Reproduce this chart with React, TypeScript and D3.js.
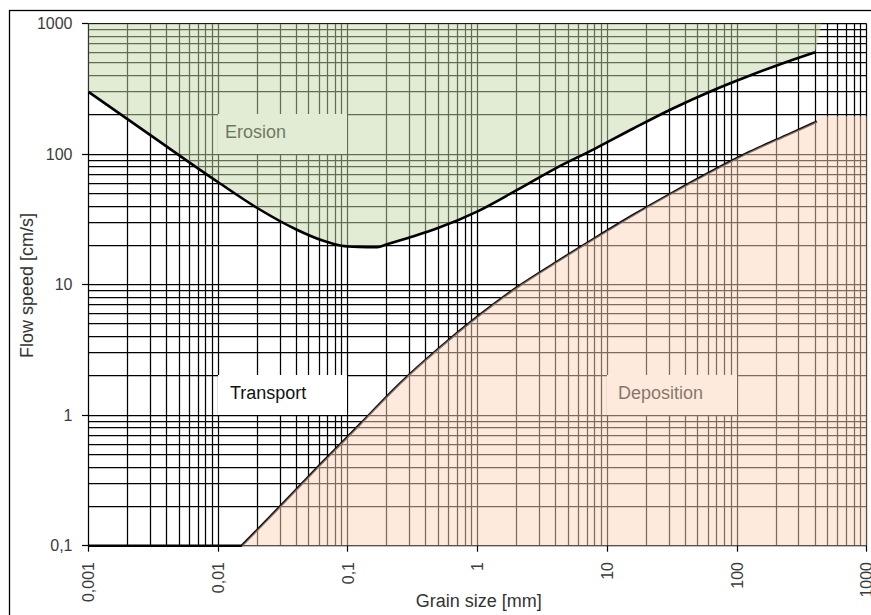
import React from 'react';
import * as d3 from 'd3';

// Hjulström-style diagram data (grain size in mm, flow speed in cm/s)
const erosionGrain = [0.001, 0.003, 0.01, 0.02, 0.04, 0.063, 0.089, 0.12, 0.168, 0.2, 0.315, 0.5, 1, 2, 4, 8, 16, 32, 63, 126, 250, 400];
const erosionSpeed = [300, 140, 61, 38.7, 26.5, 21.9, 19.9, 19.5, 19.4, 20.4, 23.4, 27.3, 36.5, 53, 78, 110, 158, 224, 304, 401, 516, 605];
const depositionGrain = [0.0152, 0.03, 0.06, 0.125, 0.25, 0.5, 1, 2, 4, 8, 16, 32, 63, 125, 250, 414];
const depositionSpeed = [0.1, 0.2, 0.41, 0.86, 1.74, 3.24, 5.7, 9.5, 14.8, 22.7, 34.4, 50.9, 73.5, 104, 142, 178];
const depositionFloorGrain = [0.001, 0.0152];
const depositionFloorSpeed = [0.1, 0.1];
const erosionTopGrain = 450;
const depositionTopSpeed = 195;

const xTickValues = [0.001, 0.01, 0.1, 1, 10, 100, 1000];
const xTickLabels = ['0,001', '0,01', '0,1', '1', '10', '100', '1000'];
const yTickValues = [0.1, 1, 10, 100, 1000];
const yTickLabels = ['0,1', '1', '10', '100', '1000'];

const regionNames = ['Erosion', 'Transport', 'Deposition'];
const regionX0 = [0.01, 0.01, 10];
const regionX1 = [0.1, 0.1, 100];
const regionY0 = [100, 1, 1];
const regionY1 = [200, 2, 2];
const regionTextPad = [7, 12, 11];

const xTitle = 'Grain size [mm]';
const yTitle = 'Flow speed [cm/s]';

const FONT = '"Liberation Sans", Arial, sans-serif';

export default function App() {
  const W = 871;
  const H = 615;
  const x = d3.scaleLog().domain([0.001, 1000]).range([88.5, 866.7]);
  const y = d3.scaleLog().domain([0.1, 1000]).range([545.7, 23.7]);
  const [xMin, xMax] = x.domain();
  const [yMin, yMax] = y.domain();

  const minorX: number[] = [];
  for (let e = -3; e < 3; e++) for (let k = 1; k <= 9; k++) minorX.push(k * Math.pow(10, e));
  minorX.push(1000);
  const minorY: number[] = [];
  for (let e = -1; e < 3; e++) for (let k = 1; k <= 9; k++) minorY.push(k * Math.pow(10, e));
  minorY.push(1000);

  const snap = (v: number) => Math.round(v - 0.5) + 0.5;

  const lineGen = d3
    .line<[number, number]>()
    .x((d) => x(d[0]))
    .y((d) => y(d[1]))
    .curve(d3.curveMonotoneX);

  const erosionPts: [number, number][] = erosionGrain.map((g, i) => [g, erosionSpeed[i]]);
  const depositionPts: [number, number][] = depositionGrain.map((g, i) => [g, depositionSpeed[i]]);
  const floorPts: [number, number][] = depositionFloorGrain.map((g, i) => [g, depositionFloorSpeed[i]]);

  const erosionPath = lineGen(erosionPts) || '';
  const depositionPath = lineGen(depositionPts) || '';
  const floorPath = d3.line<[number, number]>().x((d) => x(d[0])).y((d) => y(d[1]))(floorPts) || '';

  const lastD = depositionPts[depositionPts.length - 1];
  const greenFill =
    erosionPath +
    `L${x(erosionTopGrain)},${y(yMax)}L${x(xMin)},${y(yMax)}Z`;
  const peachFill =
    depositionPath +
    `L${x(lastD[0])},${y(depositionTopSpeed)}L${x(xMax)},${y(depositionTopSpeed)}L${x(xMax)},${y(yMin)}L${x(depositionPts[0][0])},${y(yMin)}Z`;

  return (
    <svg
      width={W}
      height={H}
      style={{ position: 'absolute', left: 0, top: 0, background: '#fff' }}
      fontFamily={FONT}
    >
      <rect x={0} y={0} width={W} height={H} fill="#fff" />
      {/* outer chart border */}
      <rect x={9.5} y={10.5} width={W + 20} height={H + 20} fill="none" stroke="#000" strokeWidth={1.3} />

      {/* grid */}
      <g stroke="#000" strokeWidth={1.25}>
        {minorX.map((v, i) => (
          <line key={'gx' + i} x1={snap(x(v))} x2={snap(x(v))} y1={y(yMax)} y2={y(yMin)} />
        ))}
        {minorY.map((v, i) => (
          <line key={'gy' + i} x1={x(xMin)} x2={x(xMax)} y1={snap(y(v))} y2={snap(y(v))} />
        ))}
      </g>

      {/* region labels (boxes) */}
      {regionNames.map((name, i) => {
        const bx = snap(x(regionX0[i])) - 0.5;
        const bw = snap(x(regionX1[i])) - 0.5 - bx;
        const by = snap(y(regionY1[i])) - 0.5;
        const bh = snap(y(regionY0[i])) - 0.5 - by;
        return (
          <g key={name}>
            <rect x={bx} y={by} width={bw} height={bh} fill="#fff" />
            <text x={bx + regionTextPad[i]} y={by + 24} fontSize={18} fill="#111">
              {name}
            </text>
          </g>
        );
      })}

      {/* deposition boundary (under fill) */}
      <path d={floorPath} fill="none" stroke="#000" strokeWidth={2.5} />
      <path d={depositionPath} fill="none" stroke="#111" strokeWidth={2.5} />

      {/* translucent region fills */}
      <path d={greenFill} fill="rgb(198,218,170)" fillOpacity={0.5} />
      <path d={peachFill} fill="rgb(252,214,188)" fillOpacity={0.5} />

      {/* erosion boundary */}
      <path d={erosionPath} fill="none" stroke="#000" strokeWidth={2.6} />

      {/* axes ticks */}
      <g stroke="#000" strokeWidth={1.2}>
        {yTickValues.map((v, i) => (
          <line key={'yt' + i} x1={82} x2={x(xMin)} y1={snap(y(v))} y2={snap(y(v))} />
        ))}
        {xTickValues.map((v, i) => (
          <line key={'xt' + i} x1={snap(x(v))} x2={snap(x(v))} y1={y(yMin)} y2={y(yMin) + 6} />
        ))}
      </g>

      {/* tick labels */}
      <g fontSize={16} fill="#3c3c3c">
        {yTickValues.map((v, i) => (
          <text key={'yl' + i} x={72.5} y={y(v)} dy="0.35em" textAnchor="end">
            {yTickLabels[i]}
          </text>
        ))}
        {xTickValues.map((v, i) => (
          <text
            key={'xl' + i}
            transform={`translate(${x(v)},562) rotate(-90)`}
            dy="0.35em"
            textAnchor="end"
          >
            {xTickLabels[i]}
          </text>
        ))}
      </g>

      {/* axis titles */}
      <text x={478.8} y={606.7} fontSize={18} fill="#333" textAnchor="middle">
        {xTitle}
      </text>
      <text transform="translate(33,285.5) rotate(-90)" fontSize={18} fill="#333" textAnchor="middle">
        {yTitle}
      </text>
    </svg>
  );
}
